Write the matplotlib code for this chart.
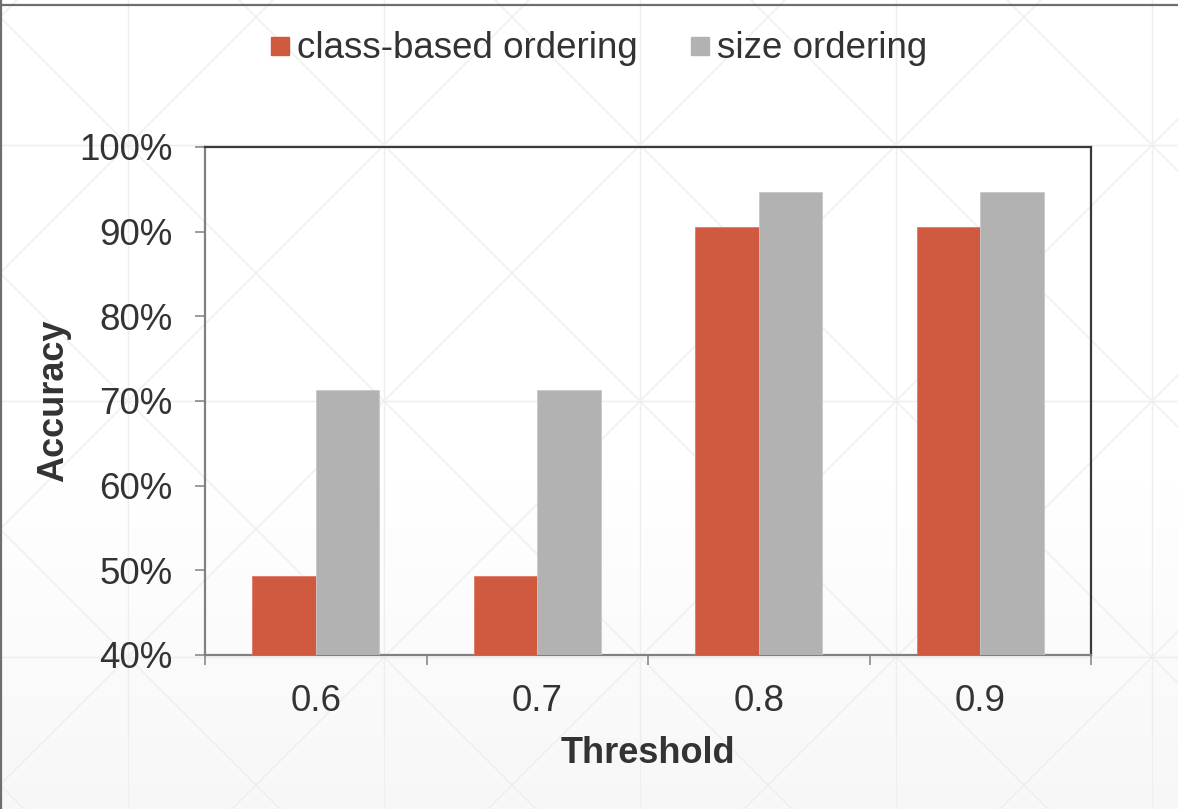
import numpy as np
import matplotlib
matplotlib.use("Agg")
import matplotlib.pyplot as plt
from matplotlib.lines import Line2D

categories = ["0.6", "0.7", "0.8", "0.9"]
class_based = [49.3, 49.3, 90.6, 90.6]
size_order = [71.3, 71.3, 94.7, 94.7]
series_names = ["class-based ordering", "size ordering"]
y_ticks = [40, 50, 60, 70, 80, 90, 100]
y_tick_labels = ["40%", "50%", "60%", "70%", "80%", "90%", "100%"]

RED = "#D05A3F"
GRAY = "#B2B2B2"
TXT = "#333333"

plt.rcParams['font.family'] = ['Liberation Sans', 'DejaVu Sans']

W, H = 1178, 809
fig = plt.figure(figsize=(W / 100, H / 100), dpi=100)
fig.patch.set_facecolor("white")

# background with gradient and faint pattern
bg = fig.add_axes([0, 0, 1, 1], zorder=-10)
bg.set_xlim(0, W)
bg.set_ylim(H, 0)
bg.axis("off")
ys = np.linspace(0, 1, 400)
grad = np.clip((ys - 0.6) / 0.4, 0, 1)
vals = 1.0 - 0.03 * grad
img = np.repeat(vals[:, None], 2, axis=1)
bg.imshow(np.dstack([img, img, img]), extent=[0, W, H, 0], aspect="auto", zorder=0)
pc = "#eeeeee"
for x in range(128, W, 256):
    bg.plot([x, x], [0, H], color=pc, lw=1, zorder=1)
for y in range(145, H, 256):
    bg.plot([0, W], [y, y], color=pc, lw=1, zorder=1)
for k in range(-10, 12):
    c = 17 + 256 * k
    bg.plot([0, W], [c, c + W], color=pc, lw=1, zorder=1)
    bg.plot([0, W], [c, c - W], color=pc, lw=1, zorder=1)
bg.set_xlim(0, W)
bg.set_ylim(H, 0)
# border (top, left)
bg.plot([0, W], [4.5, 4.5], color="#6e6e6e", lw=1.6, zorder=2)
bg.plot([0.8, 0.8], [0, H], color="#6e6e6e", lw=1.6, zorder=2)

ax = fig.add_axes([205 / W, 1 - 655 / H, (1091 - 205) / W, (655 - 147) / H])
ax.set_facecolor("none")

x = np.arange(len(categories))
bw = 0.287
ax.bar(x - bw / 2, class_based, width=bw, color=RED, edgecolor="#e07a64", lw=0.6, zorder=3)
ax.bar(x + bw / 2, size_order, width=bw, color=GRAY, edgecolor="#c8c8c8", lw=0.6, zorder=3)

ax.set_xlim(-0.5, len(categories) - 0.5)
ax.set_ylim(40, 100)
ax.set_yticks(y_ticks)
ax.set_yticklabels(y_tick_labels)
ax.set_xticks(x)
ax.set_xticklabels(categories)
ax.set_xticks(np.arange(-0.5, len(categories)), minor=True)

ax.tick_params(axis="y", which="major", length=7.2, width=1.2, color="#8a8a8a",
               pad=16, labelsize=26.5, labelcolor=TXT, direction="out")
ax.tick_params(axis="x", which="major", length=0, pad=21, labelsize=26.5, labelcolor=TXT)
ax.tick_params(axis="x", which="minor", length=7, width=1.2, color="#8a8a8a", direction="out")

for s in ["left", "bottom"]:
    ax.spines[s].set_color("#808080")
    ax.spines[s].set_linewidth(1.6)
for s in ["top", "right"]:
    ax.spines[s].set_color("#3a3a3a")
    ax.spines[s].set_linewidth(1.6)

ax.set_xlabel("Threshold", fontsize=26, fontweight="bold", color=TXT, labelpad=12)
ax.set_ylabel("Accuracy", fontsize=26, fontweight="bold", color=TXT, labelpad=6)

handles = [Line2D([], [], marker="s", linestyle="none", markersize=13.5, color=RED),
           Line2D([], [], marker="s", linestyle="none", markersize=13.5, color=GRAY)]
leg = fig.legend(handles, series_names, loc="center", bbox_to_anchor=(599 / W, 1 - 49 / H),
                 ncol=2, frameon=False, fontsize=26.5, handlelength=0.5,
                 handletextpad=0.2, columnspacing=1.45, labelcolor=TXT)

fig.savefig("out.png", dpi=100)
